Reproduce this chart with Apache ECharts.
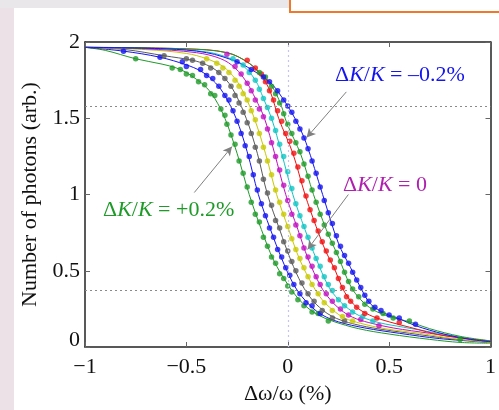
<!DOCTYPE html>
<html><head><meta charset="utf-8">
<script src="https://cdn.jsdelivr.net/npm/echarts@6/dist/echarts.min.js"></script>
<style>html,body{margin:0;padding:0;background:#fff}#c{width:499px;height:410px}</style>
</head><body><div id="c"></div>
<script>
// ---- data ----
const seriesNames = ['+0.2%','+0.15%','+0.1%','+0.05%','0','-0.05%','-0.1%','-0.15%','-0.2%'];
const xTicks = [-1, -0.5, 0, 0.5, 1];
const yTicks = [0, 0.5, 1, 1.5, 2];
const refLinesY = [1.58, 0.373];
const refLineX = [0];

const lineG1 = [[-1,1.965],[-0.9,1.945],[-0.75,1.89],[-0.62,1.855],[-0.55,1.83],[-0.5,1.80],[-0.45,1.755],[-0.4,1.70],[-0.36,1.63],[-0.31,1.50],[-0.25,1.27],[-0.19,1.0],[-0.13,0.77],[-0.07,0.57],[0.0,0.41],[0.05,0.32],[0.1,0.255],[0.15,0.21],[0.22,0.17],[0.35,0.12],[0.5,0.085],[0.7,0.05],[0.85,0.03],[1,0.025]];
const lineB1 = [[-1,1.965],[-0.81,1.94],[-0.63,1.90],[-0.5,1.85],[-0.43,1.81],[-0.37,1.75],[-0.32,1.67],[-0.255,1.50],[-0.2,1.28],[-0.145,1.0],[-0.085,0.77],[-0.03,0.58],[0.025,0.42],[0.07,0.33],[0.12,0.26],[0.17,0.21],[0.25,0.165],[0.38,0.125],[0.55,0.09],[0.75,0.055],[1,0.03]];
const lineGr = [[-1,1.965],[-0.8,1.95],[-0.61,1.91],[-0.47,1.88],[-0.4,1.85],[-0.34,1.80],[-0.275,1.70],[-0.205,1.50],[-0.15,1.27],[-0.1,1.0],[-0.04,0.77],[0.015,0.57],[0.07,0.41],[0.12,0.31],[0.17,0.245],[0.22,0.2],[0.3,0.16],[0.42,0.125],[0.6,0.09],[0.8,0.055],[1,0.03]];
const lineY = [[-1,1.965],[-0.7,1.95],[-0.5,1.925],[-0.4,1.89],[-0.32,1.84],[-0.26,1.76],[-0.215,1.66],[-0.165,1.50],[-0.11,1.27],[-0.055,1.0],[0.005,0.77],[0.06,0.57],[0.125,0.40],[0.17,0.31],[0.22,0.245],[0.28,0.19],[0.36,0.155],[0.48,0.12],[0.65,0.09],[0.82,0.055],[1,0.03]];
const lineM = [[-1,1.965],[-0.7,1.955],[-0.45,1.93],[-0.33,1.89],[-0.26,1.83],[-0.2,1.73],[-0.16,1.63],[-0.115,1.50],[-0.065,1.27],[-0.01,1.0],[0.05,0.77],[0.1,0.58],[0.162,0.40],[0.21,0.31],[0.26,0.245],[0.32,0.195],[0.4,0.16],[0.52,0.125],[0.7,0.09],[0.85,0.06],[1,0.035]];
const lineC = [[-1,1.965],[-0.6,1.955],[-0.4,1.935],[-0.3,1.90],[-0.225,1.85],[-0.16,1.75],[-0.12,1.63],[-0.08,1.50],[-0.03,1.27],[0.025,1.0],[0.085,0.77],[0.14,0.58],[0.2,0.40],[0.25,0.31],[0.3,0.25],[0.36,0.2],[0.45,0.16],[0.57,0.13],[0.72,0.095],[0.87,0.06],[1,0.035]];
const lineR = [[-1,1.965],[-0.5,1.955],[-0.3,1.93],[-0.19,1.86],[-0.13,1.78],[-0.085,1.67],[-0.045,1.50],[0.025,1.27],[0.085,1.0],[0.14,0.79],[0.19,0.62],[0.235,0.5],[0.265,0.40],[0.3,0.32],[0.35,0.25],[0.42,0.2],[0.5,0.165],[0.6,0.13],[0.77,0.075],[1,0.04]];
const lineG2 = [[-1,1.965],[-0.5,1.955],[-0.3,1.93],[-0.2,1.87],[-0.142,1.80],[-0.078,1.71],[-0.034,1.59],[-0.005,1.47],[0.065,1.26],[0.127,1.0],[0.19,0.77],[0.25,0.59],[0.31,0.40],[0.36,0.31],[0.42,0.245],[0.5,0.2],[0.6,0.165],[0.7,0.12],[0.85,0.07],[1,0.04]];
const lineB2 = [[-1,1.965],[-0.6,1.955],[-0.4,1.93],[-0.25,1.87],[-0.18,1.82],[-0.09,1.74],[-0.03,1.64],[0.035,1.50],[0.09,1.34],[0.172,1.0],[0.25,0.68],[0.31,0.52],[0.363,0.38],[0.41,0.28],[0.48,0.22],[0.55,0.185],[0.63,0.14],[0.77,0.085],[0.9,0.05],[1,0.035]];

const dotsG1 = [[-0.75,1.89],[-0.57,1.83],[-0.53,1.82],[-0.5,1.79],[-0.47,1.78],[-0.44,1.74],[-0.41,1.72],[-0.38,1.66],[-0.36,1.65],[-0.33,1.56],[-0.31,1.52],[-0.3,1.46],[-0.28,1.39],[-0.26,1.33],[-0.24,1.22],[-0.22,1.14],[-0.2,1.05],[-0.18,0.95],[-0.16,0.87],[-0.14,0.82],[-0.12,0.72],[-0.1,0.66],[-0.08,0.59],[-0.06,0.55],[-0.04,0.48],[-0.02,0.45],[0.0,0.40],[0.02,0.36],[0.05,0.31],[0.08,0.27],[0.12,0.23],[0.15,0.22],[0.2,0.17]];
const dotsB1 = [[-0.81,1.94],[-0.63,1.90],[-0.52,1.87],[-0.5,1.84],[-0.43,1.82],[-0.4,1.78],[-0.37,1.76],[-0.34,1.71],[-0.31,1.65],[-0.29,1.62],[-0.27,1.55],[-0.25,1.48],[-0.23,1.40],[-0.21,1.32],[-0.19,1.25],[-0.17,1.13],[-0.15,1.03],[-0.13,0.94],[-0.11,0.86],[-0.09,0.78],[-0.07,0.72],[-0.05,0.64],[-0.03,0.59],[-0.01,0.52],[0.01,0.47],[0.03,0.41],[0.06,0.35],[0.09,0.29],[0.12,0.27],[0.16,0.22]];
const dotsGr = [[-0.61,1.91],[-0.5,1.89],[-0.47,1.88],[-0.42,1.86],[-0.38,1.83],[-0.34,1.80],[-0.31,1.76],[-0.28,1.71],[-0.26,1.65],[-0.24,1.60],[-0.22,1.54],[-0.2,1.47],[-0.18,1.40],[-0.16,1.31],[-0.14,1.22],[-0.12,1.10],[-0.1,1.01],[-0.08,0.93],[-0.06,0.83],[-0.04,0.78],[-0.02,0.69],[0.0,0.63],[0.02,0.56],[0.04,0.50],[0.07,0.42],[0.1,0.35],[0.13,0.30],[0.17,0.24],[0.22,0.19],[0.28,0.17]];
const dotsY = [[-0.4,1.89],[-0.35,1.86],[-0.32,1.83],[-0.29,1.80],[-0.26,1.75],[-0.24,1.71],[-0.22,1.66],[-0.2,1.62],[-0.18,1.55],[-0.16,1.49],[-0.14,1.40],[-0.12,1.31],[-0.1,1.22],[-0.08,1.13],[-0.06,1.03],[-0.04,0.95],[-0.02,0.87],[0.0,0.79],[0.02,0.71],[0.04,0.64],[0.06,0.58],[0.08,0.52],[0.1,0.46],[0.12,0.41],[0.15,0.35],[0.18,0.29],[0.22,0.24],[0.27,0.2],[0.32,0.17]];
const dotsM = [[-0.3,1.92],[-0.26,1.84],[-0.23,1.79],[-0.2,1.73],[-0.18,1.68],[-0.16,1.62],[-0.14,1.56],[-0.12,1.51],[-0.1,1.43],[-0.08,1.34],[-0.06,1.25],[-0.04,1.16],[-0.02,1.06],[0.0,0.96],[0.02,0.87],[0.04,0.80],[0.06,0.73],[0.08,0.65],[0.1,0.59],[0.12,0.53],[0.14,0.46],[0.16,0.41],[0.19,0.35],[0.22,0.30],[0.26,0.25],[0.3,0.21],[0.36,0.18],[0.45,0.14]];
const dotsC = [[-0.27,1.89],[-0.22,1.85],[-0.19,1.80],[-0.16,1.75],[-0.14,1.69],[-0.12,1.63],[-0.1,1.57],[-0.08,1.50],[-0.06,1.42],[-0.04,1.33],[-0.02,1.25],[0.0,1.15],[0.02,1.04],[0.04,0.94],[0.06,0.86],[0.08,0.79],[0.1,0.72],[0.12,0.65],[0.14,0.58],[0.16,0.53],[0.18,0.46],[0.2,0.41],[0.22,0.37],[0.25,0.31],[0.28,0.27],[0.32,0.23],[0.37,0.2],[0.42,0.17]];
const dotsR = [[-0.2,1.88],[-0.16,1.83],[-0.13,1.79],[-0.11,1.74],[-0.09,1.68],[-0.07,1.62],[-0.05,1.55],[-0.03,1.48],[-0.01,1.40],[0.01,1.35],[0.03,1.27],[0.05,1.18],[0.07,1.09],[0.09,0.99],[0.11,0.90],[0.13,0.83],[0.15,0.76],[0.17,0.69],[0.19,0.63],[0.21,0.57],[0.23,0.52],[0.25,0.45],[0.27,0.39],[0.29,0.33],[0.31,0.30],[0.34,0.26],[0.38,0.22],[0.44,0.19],[0.55,0.16]];
const dotsG2 = [[-0.14,1.80],[-0.11,1.77],[-0.08,1.71],[-0.06,1.66],[-0.04,1.60],[-0.02,1.53],[0.0,1.46],[0.02,1.40],[0.04,1.34],[0.06,1.28],[0.08,1.20],[0.1,1.12],[0.12,1.03],[0.14,0.95],[0.16,0.87],[0.18,0.80],[0.2,0.74],[0.22,0.68],[0.24,0.62],[0.26,0.56],[0.28,0.49],[0.3,0.43],[0.32,0.38],[0.35,0.33],[0.38,0.28],[0.42,0.25],[0.47,0.22],[0.52,0.19],[0.6,0.17],[0.85,0.05]];
const dotsB2 = [[-0.25,1.87],[-0.18,1.82],[-0.12,1.77],[-0.09,1.74],[-0.05,1.68],[-0.02,1.62],[0.0,1.58],[0.02,1.54],[0.04,1.48],[0.06,1.43],[0.08,1.37],[0.1,1.30],[0.12,1.22],[0.14,1.14],[0.16,1.05],[0.18,0.96],[0.2,0.88],[0.22,0.81],[0.24,0.73],[0.26,0.66],[0.28,0.60],[0.3,0.55],[0.32,0.49],[0.34,0.44],[0.36,0.39],[0.38,0.34],[0.4,0.30],[0.43,0.26],[0.46,0.24],[0.5,0.21],[0.55,0.19],[0.63,0.15]];

// annotation arrows (data coordinates: start -> end)
const arrowBlue = [[0.289,1.673],[0.093,1.373]];
const arrowMag = [[0.299,1.0],[0.098,0.64]];
const arrowGreen = [[-0.461,1.013],[-0.275,1.314]];

// ---- styles ----
const colors = ['#1e9a28','#1414f0','#5a5a5a','#c8c800','#c010c0','#10c4c4','#f01010','#1e9a28','#1414f0'];
const lines = [lineG1,lineB1,lineGr,lineY,lineM,lineC,lineR,lineG2,lineB2];
const dots = [dotsG1,dotsB1,dotsGr,dotsY,dotsM,dotsC,dotsR,dotsG2,dotsB2];
const serif = '"Liberation Serif","DejaVu Serif",serif';

function fmt(v){ if (v < 0) return '\u2212' + String(Math.abs(v)); return String(v); }

const series = [];
lines.forEach((d, i) => {
  series.push({
    name: seriesNames[i], type: 'line', data: d, showSymbol: false, smooth: 0.35,
    lineStyle: { color: colors[i], width: 1 }, z: 3, silent: true
  });
});
dots.forEach((d, i) => {
  series.push({
    name: seriesNames[i] + ' pts', type: 'scatter', data: d, symbolSize: 5.5,
    itemStyle: { color: colors[i] }, z: 4, silent: true
  });
});
series.push({
  type: 'line', data: [], silent: true, z: 2,
  markLine: {
    silent: true, symbol: 'none', label: { show: false },
    data: [
      { yAxis: refLinesY[0], lineStyle: { color: '#8a8a8a', type: [2, 3], width: 1.2 } },
      { yAxis: refLinesY[1], lineStyle: { color: '#8a8a8a', type: [2, 3], width: 1.2 } },
      { xAxis: refLineX[0], lineStyle: { color: '#c4c4f0', type: [2, 3], width: 1.2 } }
    ]
  }
});
series.push({
  type: 'line', data: [], silent: true, z: 6,
  markLine: {
    silent: true, symbol: ['none', 'arrow'], symbolSize: [7, 9], label: { show: false },
    lineStyle: { color: '#808080', type: 'solid', width: 1 },
    data: [arrowBlue, arrowMag, arrowGreen].map(a => [{ coord: a[0] }, { coord: a[1], itemStyle: { color: '#222' } }])
  }
});

const axisLineStyle = { onZero: false, lineStyle: { color: '#222', width: 1.5 } };
const tickStyle = { inside: true, length: 5, lineStyle: { color: '#666' } };
const labelFont = { fontFamily: serif, fontSize: 22, color: '#111' };
const option = {
  animation: false,
  backgroundColor: '#ffffff',
  grid: { left: 85, right: 6, top: 42, bottom: 62, containLabel: false },
  xAxis: [
    {
      type: 'value', min: xTicks[0], max: xTicks[xTicks.length - 1], interval: 0.5,
      axisLine: axisLineStyle, axisTick: tickStyle, splitLine: { show: false },
      axisLabel: Object.assign({ formatter: fmt, margin: 9 }, labelFont),
      name: '\u0394\u03c9/\u03c9 (%)', nameLocation: 'middle', nameGap: 36,
      nameTextStyle: labelFont
    },
    {
      type: 'value', position: 'top', min: xTicks[0], max: xTicks[xTicks.length - 1], interval: 0.5,
      axisLine: axisLineStyle, axisTick: tickStyle, axisLabel: { show: false }, splitLine: { show: false }
    }
  ],
  yAxis: [
    {
      type: 'value', min: yTicks[0], max: yTicks[yTicks.length - 1], interval: 0.5,
      axisLine: axisLineStyle, axisTick: tickStyle, splitLine: { show: false },
      axisLabel: Object.assign({
        formatter: v => v === 0 ? '{z|0}' : fmt(v), margin: 5,
        rich: { z: Object.assign({ padding: [0, 0, 14, 0] }, labelFont) }
      }, labelFont),
      name: 'Number of photons (arb.)', nameLocation: 'middle', nameGap: 34,
      nameTextStyle: labelFont
    },
    {
      type: 'value', position: 'right', min: yTicks[0], max: yTicks[yTicks.length - 1], interval: 0.5,
      axisLine: axisLineStyle, axisTick: tickStyle, axisLabel: { show: false }, splitLine: { show: false }
    }
  ],
  graphic: [
    { type: 'rect', shape: { x: 0, y: 0, width: 14, height: 410 }, style: { fill: '#ece1e6' }, silent: true, z: -10 },
    { type: 'rect', shape: { x: 0, y: 0, width: 499, height: 8 }, style: { fill: '#e9e7ea' }, silent: true, z: -10 },
    { type: 'rect', shape: { x: 290, y: -3, width: 215, height: 15 }, style: { fill: '#ffffff', stroke: '#f0782a', lineWidth: 2 }, silent: true, z: -9 },
    {
      type: 'text', left: 335, top: 64, silent: true, z: 10,
      style: {
        text: '{n|\u0394}{i|K}{n|/}{i|K}{n| = \u20130.2%}', fill: '#1414f0',
        rich: { n: { fontFamily: serif, fontSize: 22, fill: '#1414f0' }, i: { fontFamily: serif, fontSize: 22, fontStyle: 'italic', fill: '#1414f0' } }
      }
    },
    {
      type: 'text', left: 343, top: 174, silent: true, z: 10,
      style: {
        text: '{n|\u0394}{i|K}{n|/}{i|K}{n| = 0}', fill: '#b020b0',
        rich: { n: { fontFamily: serif, fontSize: 22, fill: '#b020b0' }, i: { fontFamily: serif, fontSize: 22, fontStyle: 'italic', fill: '#b020b0' } }
      }
    },
    {
      type: 'text', left: 103, top: 199, silent: true, z: 10,
      style: {
        text: '{n|\u0394}{i|K}{n|/}{i|K}{n| = +0.2%}', fill: '#1e9a28',
        rich: { n: { fontFamily: serif, fontSize: 22, fill: '#1e9a28' }, i: { fontFamily: serif, fontSize: 22, fontStyle: 'italic', fill: '#1e9a28' } }
      }
    }
  ],
  series: series
};
const chart = echarts.init(document.getElementById('c'), null, { renderer: 'canvas' });
chart.setOption(option);
</script>
</body></html>
